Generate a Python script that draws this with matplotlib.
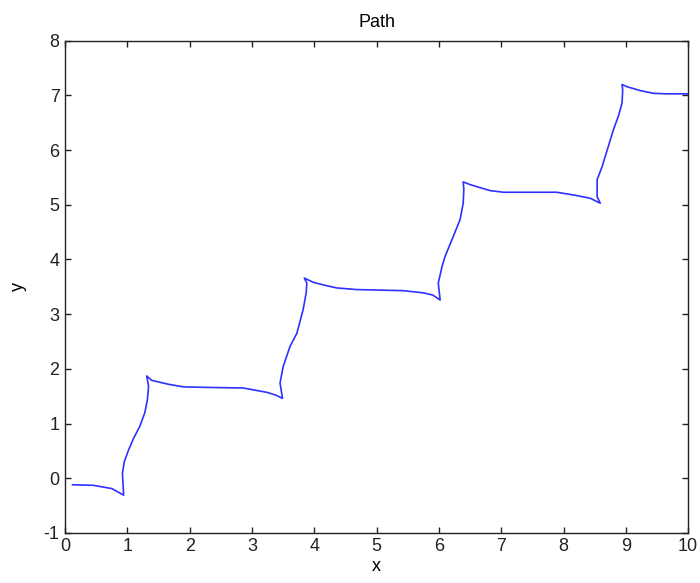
"""Staircase path plot in the old MATLAB look."""

import matplotlib
matplotlib.use("Agg")
import matplotlib.pyplot as plt

# path points (x, y)
path_x = [
    0.12, 0.45, 0.75, 0.94,
    0.92, 0.95, 1.02, 1.10, 1.20, 1.28, 1.32, 1.34, 1.31,
    1.39, 1.65, 1.90, 2.30, 2.86, 3.05, 3.24, 3.38, 3.49,
    3.45, 3.50, 3.61, 3.72, 3.82, 3.87, 3.88, 3.84,
    3.99, 4.20, 4.36, 4.68, 5.05, 5.43, 5.75, 5.90, 6.02,
    5.99, 6.05, 6.10, 6.23, 6.34, 6.39, 6.40, 6.39,
    6.50, 6.82, 7.04, 7.50, 7.89, 8.16, 8.43, 8.59,
    8.54, 8.54, 8.62, 8.72, 8.80, 8.88, 8.94, 8.95, 8.94,
    9.02, 9.23, 9.44, 9.65, 9.93, 10.0,
]
path_y = [
    -0.12, -0.13, -0.19, -0.31,
    0.09, 0.30, 0.52, 0.73, 0.95, 1.20, 1.43, 1.68, 1.87,
    1.79, 1.72, 1.67, 1.66, 1.65, 1.61, 1.57, 1.52, 1.46,
    1.74, 2.04, 2.41, 2.65, 3.08, 3.39, 3.57, 3.66,
    3.58, 3.52, 3.48, 3.45, 3.44, 3.43, 3.39, 3.35, 3.26,
    3.57, 3.87, 4.06, 4.42, 4.73, 5.03, 5.28, 5.42,
    5.37, 5.26, 5.23, 5.23, 5.23, 5.18, 5.12, 5.03,
    5.15, 5.46, 5.70, 6.07, 6.37, 6.62, 6.86, 7.10, 7.20,
    7.16, 7.09, 7.04, 7.03, 7.03, 7.03,
]

x_ticks = list(range(0, 11))
y_ticks = list(range(-1, 9))

plt.rcParams["font.family"] = ["Liberation Sans", "DejaVu Sans"]
plt.rcParams["axes.unicode_minus"] = False

fig = plt.figure(figsize=(7.0, 5.83), dpi=100)
ax = fig.add_axes([0.093, 0.086, 0.890, 0.844])

ax.plot(path_x, path_y, color="#3030ff", linewidth=1.2)

ax.set_xlim(0, 10)
ax.set_ylim(-1, 8)
ax.set_xticks(x_ticks)
ax.set_yticks(y_ticks)
ax.tick_params(direction="in", length=4, width=1, top=True, right=True,
               labelsize=13, colors="#222222", pad=4)
for s in ax.spines.values():
    s.set_linewidth(1.0)
    s.set_color("#222222")

ax.set_title("Path", fontsize=13, pad=10)
ax.set_xlabel("x", fontsize=13, labelpad=2)
ax.set_ylabel("y", fontsize=13, labelpad=12)

fig.savefig("out.png", dpi=100)
